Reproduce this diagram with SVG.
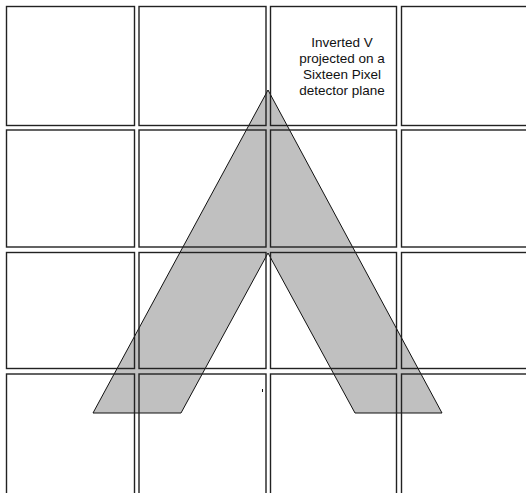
<svg xmlns="http://www.w3.org/2000/svg" width="526" height="493" viewBox="0 0 526 493">
<style>
.px{fill:none;stroke:#222;stroke-width:1.4}
.v{fill:#c0c0c0;stroke:#111;stroke-width:1}
.lbl{font-family:"Liberation Sans",Arial,sans-serif;font-size:13.5px;fill:#111;text-anchor:middle}
</style>
<rect width="526" height="493" fill="#fff"/>
<g id="inverted-v">
<polygon class="v" points="268,90 442,413 355,413 268,253 181,413 93,413"/>
</g>
<g id="pixels">
<rect id="p11" class="px" x="6.5" y="6.5" width="128" height="119"/>
<rect id="p12" class="px" x="139" y="6.5" width="127" height="119"/>
<rect id="p13" class="px" x="270.5" y="6.5" width="126" height="119"/>
<rect id="p14" class="px" x="401.5" y="6.5" width="130" height="119"/>
<rect id="p21" class="px" x="6.5" y="130" width="128" height="117"/>
<rect id="p22" class="px" x="139" y="130" width="127" height="117"/>
<rect id="p23" class="px" x="270.5" y="130" width="126" height="117"/>
<rect id="p24" class="px" x="401.5" y="130" width="130" height="117"/>
<rect id="p31" class="px" x="6.5" y="252.5" width="128" height="116"/>
<rect id="p32" class="px" x="139" y="252.5" width="127" height="116"/>
<rect id="p33" class="px" x="270.5" y="252.5" width="126" height="116"/>
<rect id="p34" class="px" x="401.5" y="252.5" width="130" height="116"/>
<rect id="p41" class="px" x="6.5" y="374" width="128" height="130"/>
<rect id="p42" class="px" x="139" y="374" width="127" height="130"/>
<rect id="p43" class="px" x="270.5" y="374" width="126" height="130"/>
<rect id="p44" class="px" x="401.5" y="374" width="130" height="130"/>
</g>
<line x1="262.5" y1="389" x2="262.5" y2="392" stroke="#111" stroke-width="1"/>
<g id="label">
<text class="lbl" x="342" y="47">Inverted V</text>
<text class="lbl" x="342" y="63">projected on a</text>
<text class="lbl" x="342" y="79">Sixteen Pixel</text>
<text class="lbl" x="342" y="95">detector plane</text>
</g>
</svg>
